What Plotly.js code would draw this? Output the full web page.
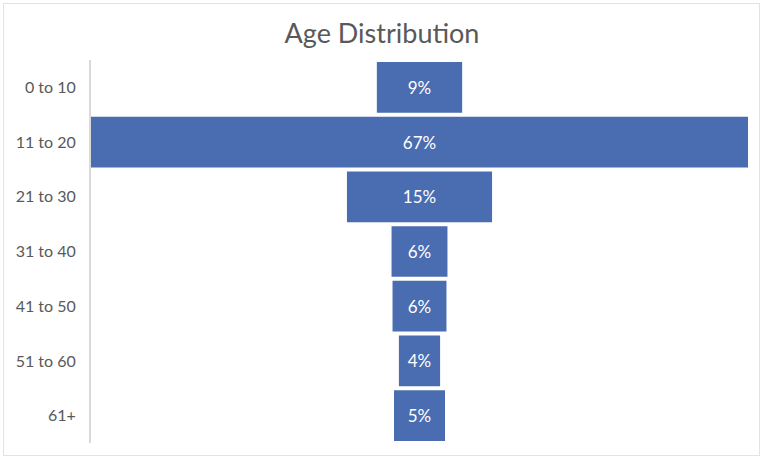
<!DOCTYPE html>
<html><head><meta charset="utf-8">
<script src="https://cdn.plot.ly/plotly-3.0.1.min.js"></script>
<style>
html,body{margin:0;padding:0;background:#fff;}
#wrap{position:relative;width:764px;height:460px;}
#chart{position:absolute;left:0;top:0;width:764px;height:460px;}
#frame{position:absolute;left:3px;top:3px;width:755px;height:451px;border:1px solid #e3e3e3;pointer-events:none;}
</style></head>
<body><div id="wrap"><div id="chart"></div><div id="frame"></div></div>
<script>
const categories = ["0 to 10","11 to 20","21 to 30","31 to 40","41 to 50","51 to 60","61+"];
const shares = [8.7, 67, 14.8, 5.7, 5.5, 4.2, 5.2];
const titleText = "Age Distribution";

const trace = {
  type: 'funnel',
  y: categories,
  x: shares,
  orientation: 'h',
  marker: {color: '#4a6cb1', line: {width: 0}},
  connector: {visible: false},
  texttemplate: '%{x:.0f}%',
  textposition: 'inside',
  insidetextanchor: 'middle',
  textfont: {color: '#ffffff', size: 17, family: 'Lato, sans-serif'},
  hoverinfo: 'y+x',
  cliponaxis: false
};

const layout = {
  width: 764, height: 460,
  margin: {l: 91, r: 16, t: 60, b: 17},
  paper_bgcolor: '#ffffff', plot_bgcolor: '#ffffff',
  showlegend: false,
  funnelgap: 0.073,
  title: {text: titleText, x: 0.5, xanchor: 'center', y: 0.928, yanchor: 'middle',
          font: {size: 27, color: '#595959', family: 'Lato, sans-serif'}},
  xaxis: {visible: false, range: [-33.5, 33.5], fixedrange: true},
  yaxis: {type: 'category', categoryorder: 'array', categoryarray: categories,
          autorange: 'reversed', showline: true, linecolor: '#d9d9d9', linewidth: 2,
          showgrid: false, zeroline: false, ticks: '', ticklabelstandoff: 10,
          tickfont: {size: 16, color: '#595959', family: 'Lato, sans-serif'}}
};

Plotly.newPlot('chart', [trace], layout, {displayModeBar: false, staticPlot: true});
</script></body></html>
